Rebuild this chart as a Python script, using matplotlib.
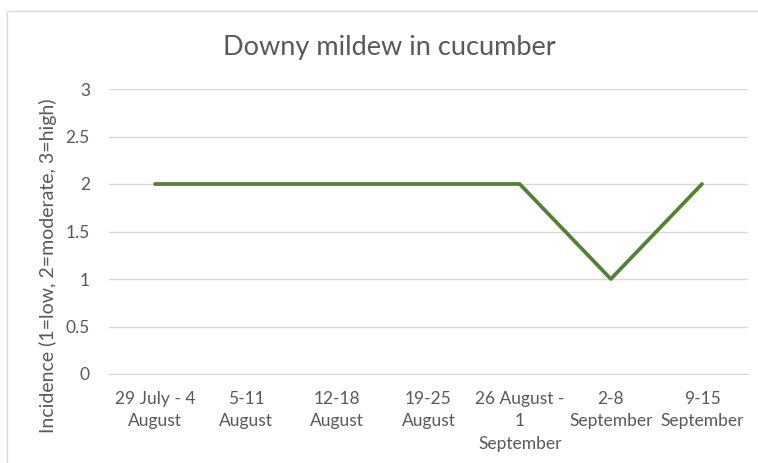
import matplotlib
matplotlib.use("Agg")
import matplotlib.pyplot as plt
from matplotlib.patches import Rectangle

categories = ["29 July - 4\nAugust", "5-11\nAugust", "12-18\nAugust", "19-25\nAugust",
              "26 August -\n1\nSeptember", "2-8\nSeptember", "9-15\nSeptember"]
incidence = [2, 2, 2, 2, 2, 1, 2]
yticks = [0, 0.5, 1, 1.5, 2, 2.5, 3]
ytick_labels = ["0", "0.5", "1", "1.5", "2", "2.5", "3"]

plt.rcParams['font.family'] = ['Lato', 'DejaVu Sans']
W, H = 758, 463
fig = plt.figure(figsize=(W / 100, H / 100), dpi=100)
fig.patch.set_facecolor("white")
fig.add_artist(Rectangle((7 / W, -0.05), 1.1, 1 - 11 / H + 0.05, transform=fig.transFigure,
                         fill=False, edgecolor="#d9d9d9", linewidth=1))

left, right = 109.4 / W, 747.6 / W
bottom, top = 1 - 374 / H, 1 - 89 / H
ax = fig.add_axes([left, bottom, right - left, top - bottom])
x = list(range(len(categories)))
ax.plot(x, incidence, color="#548235", linewidth=2.7, solid_joinstyle="round",
        solid_capstyle="round", zorder=3)
ax.set_xlim(-0.5, len(categories) - 0.5)
ax.set_ylim(0, 3)
ax.set_yticks(yticks)
ax.set_yticklabels(ytick_labels)
ax.set_xticks(x)
ax.set_xticklabels(categories, linespacing=1.5)
ax.grid(axis="y", color="#d9d9d9", linewidth=1)
ax.set_axisbelow(True)
for s in ["top", "right", "left"]:
    ax.spines[s].set_visible(False)
ax.spines["bottom"].set_color("#d9d9d9")
ax.tick_params(axis="both", length=0, labelsize=12.5, colors="#595959")
ax.tick_params(axis="x", pad=12)
ax.tick_params(axis="y", pad=14)
fig.text(48 / W, 1 - 266 / H, "Incidence (1=low, 2=moderate, 3=high)", rotation=90,
         ha="center", va="center", fontsize=14, color="#595959")
fig.text(389 / W, 1 - 47 / H, "Downy mildew in cucumber", ha="center", va="center",
         fontsize=19.5, color="#595959")
fig.savefig("out.png", dpi=100)
